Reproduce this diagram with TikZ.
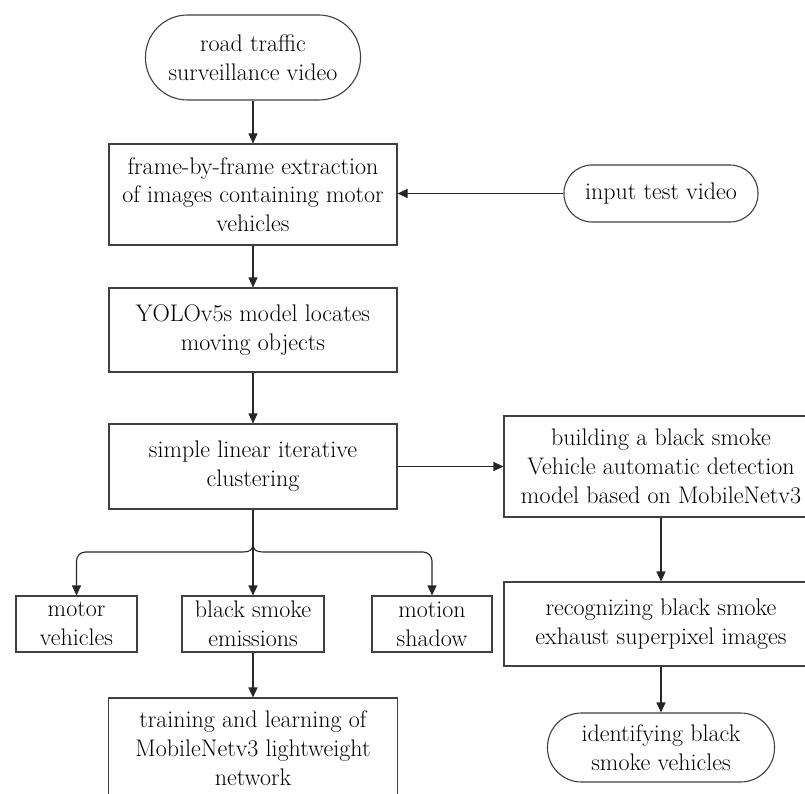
\documentclass[tikz,border=0pt]{standalone}
\usetikzlibrary{arrows.meta}
\begin{document}
\begin{tikzpicture}[x=1pt,y=-1pt,
  box/.style={draw=black!75, line width=1.1pt, align=center, inner sep=1pt,
    font=\fontsize{24}{28.8}\selectfont, text=black},
  stadium/.style={box},
  arr/.style={draw=black!85, line width=1.1pt, -{Triangle[length=10pt,width=9pt]}},
  ln/.style={draw=black!85, line width=1.1pt}]
\clip (0,0) rectangle (805,794);
\fill[white] (0,0) rectangle (805,794);
% nodes
\node[stadium, minimum width=215pt, minimum height=85pt, rounded corners=42pt] (rt) at (253,57.5) {road traffic\\surveillance video};
\node[box, minimum width=288pt, minimum height=101pt] (fr) at (253,194.5) {frame-by-frame extraction\\of images containing motor\\vehicles};
\node[stadium, minimum width=194pt, minimum height=57pt, rounded corners=28pt] (itv) at (661,193.5) {input test video};
\node[box, minimum width=288pt, minimum height=84pt] (yolo) at (253,330) {YOLOv5s model locates\\moving objects};
\node[box, minimum width=288pt, minimum height=85pt] (sl) at (253,466.5) {simple linear iterative\\clustering};
\node[box, minimum width=314pt, minimum height=101pt] (bld) at (661,466.5) {building a black smoke\\Vehicle automatic detection\\model based on MobileNetv3};
\node[box, minimum width=121pt, minimum height=56pt] (mv) at (76.5,624) {motor\\vehicles};
\node[box, minimum width=142pt, minimum height=56pt] (bse) at (253,624) {black smoke\\emissions};
\node[box, minimum width=120pt, minimum height=56pt] (ms) at (432,624) {motion\\shadow};
\node[box, minimum width=289pt, minimum height=100pt] (tr) at (253,748) {training and learning of\\MobileNetv3 lightweight\\network};
\node[box, minimum width=314pt, minimum height=84pt] (rec) at (661,624) {recognizing black smoke\\exhaust superpixel images};
\node[stadium, minimum width=227pt, minimum height=69pt, rounded corners=34pt] (id) at (661,747.5) {identifying black\\smoke vehicles};
% connectors
\draw[arr] (rt.south) -- (fr.north);
\draw[arr] (itv.west) -- (fr.east |- itv.west);
\draw[arr] (fr.south) -- (yolo.north);
\draw[arr] (yolo.south) -- (sl.north);
\draw[arr] (sl.east) -- (bld.west |- sl.east);
\draw[arr] (bld.south) -- (rec.north);
\draw[arr] (rec.south) -- (id.north);
\coordinate (br) at (253,543);
\draw[arr] (sl.south) -- (bse.north);
\draw[ln] (br) .. controls (253,550) and (250,552) .. (243,552);
\draw[ln] (br) .. controls (253,550) and (256,552) .. (263,552);
\draw[arr, rounded corners=9pt] (243,552) -- (mv.north |- 0,552) -- (mv.north);
\draw[arr, rounded corners=9pt] (263,552) -- (ms.north |- 0,552) -- (ms.north);
\draw[arr] (bse.south) -- (tr.north);
\end{tikzpicture}
\end{document}
